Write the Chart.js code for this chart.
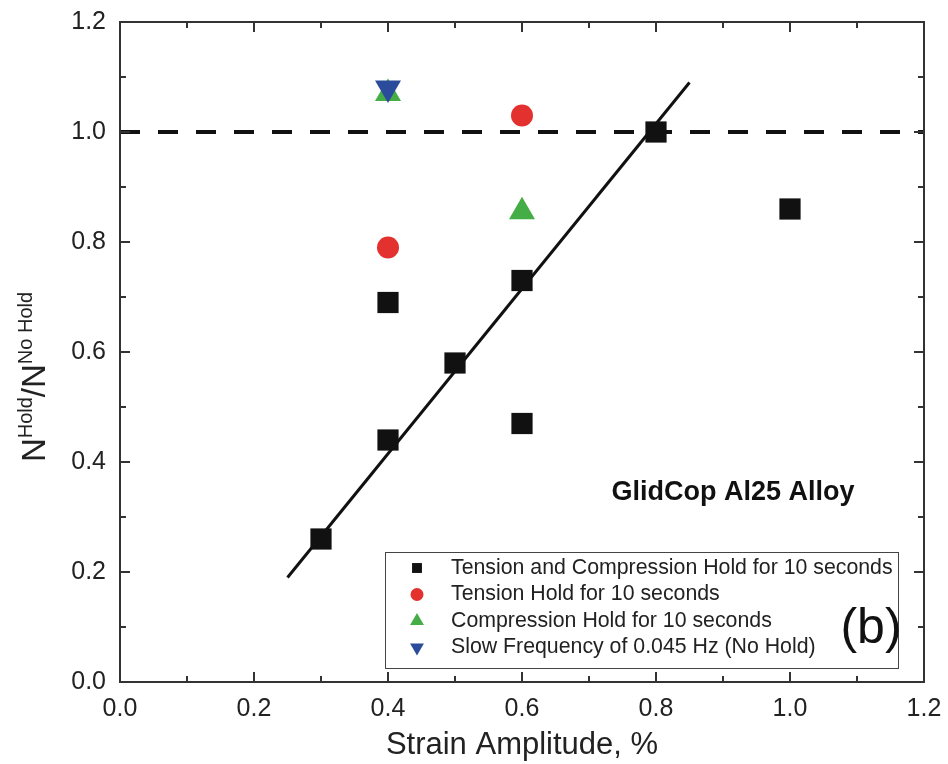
<!DOCTYPE html>
<html lang="en">
<head>
  <meta charset="UTF-8">
  <title>GlidCop Al25 hold time</title>
  <script src="https://cdn.jsdelivr.net/npm/chart.js"></script>
  <style>
    body {
      margin: 0;
      background: #ffffff;
    }
    #chart {
      display: block;
    }
  </style>
</head>
<body>
  <canvas id="chart" width="948" height="764"></canvas>

  <script>
    const FONT = 'Arial, "Liberation Sans", sans-serif';

    // Data
    const tcHoldX = [0.3, 0.4, 0.4, 0.5, 0.6, 0.6, 0.8, 1.0];
    const tcHoldY = [0.26, 0.44, 0.69, 0.58, 0.73, 0.47, 1.0, 0.86];
    const tHoldX = [0.4, 0.6];
    const tHoldY = [0.79, 1.03];
    const cHoldX = [0.4, 0.6];
    const cHoldY = [1.07, 0.855];
    const slowX = [0.4];
    const slowY = [1.08];
    const fitX = [0.25, 0.85];
    const fitY = [0.19, 1.09];
    const refX = [0, 1.2];
    const refY = [1, 1];

    const seriesLabels = [
      'Tension and Compression Hold for 10 seconds',
      'Tension Hold for 10 seconds',
      'Compression Hold for 10 seconds',
      'Slow Frequency of 0.045 Hz (No Hold)'
    ];
    const xTitle = 'Strain Amplitude, %';
    const noteText = 'GlidCop Al25 Alloy';
    const panelText = '(b)';

    const toPts = (xs, ys) => xs.map((x, i) => ({ x: x, y: ys[i] }));

    const RED = '#e3312f';
    const GREEN = '#45ad45';
    const BLUE = '#2b4c9b';

    // frame + inward ticks on all four sides
    const framePlugin = {
      id: 'frame',
      afterDatasetsDraw(chart) {
        const { ctx, chartArea: a, scales } = chart;
        ctx.save();
        ctx.strokeStyle = '#333';
        ctx.lineWidth = 2;
        ctx.strokeRect(a.left, a.top, a.right - a.left, a.bottom - a.top);
        for (let i = 0; i <= 12; i++) {
          const v = i / 10;
          const len = i % 2 === 0 ? 10 : 6;
          const px = scales.x.getPixelForValue(v);
          ctx.beginPath();
          ctx.moveTo(px, a.bottom); ctx.lineTo(px, a.bottom - len);
          ctx.moveTo(px, a.top); ctx.lineTo(px, a.top + len);
          const py = scales.y.getPixelForValue(v);
          ctx.moveTo(a.left, py); ctx.lineTo(a.left + len, py);
          ctx.moveTo(a.right, py); ctx.lineTo(a.right - len, py);
          ctx.stroke();
        }
        ctx.restore();
      }
    };

    // y title with superscripts, legend box, notes
    const extrasPlugin = {
      id: 'extras',
      afterDraw(chart) {
        const { ctx, chartArea: a } = chart;
        ctx.save();

        // y axis title
        const parts = [
          { t: 'N', s: 33, up: 0 },
          { t: 'Hold', s: 20, up: 13 },
          { t: '/N', s: 33, up: 0 },
          { t: 'No Hold', s: 20, up: 13 }
        ];
        let total = 0;
        parts.forEach(p => {
          ctx.font = p.s + 'px ' + FONT;
          p.w = ctx.measureText(p.t).width;
          total += p.w;
        });
        const cy = (a.top + a.bottom) / 2 + 25;
        ctx.translate(45, cy);
        ctx.rotate(-Math.PI / 2);
        ctx.fillStyle = '#222';
        ctx.textBaseline = 'alphabetic';
        ctx.textAlign = 'left';
        let x = -total / 2;
        parts.forEach(p => {
          ctx.font = p.s + 'px ' + FONT;
          ctx.fillText(p.t, x, -p.up);
          x += p.w;
        });
        ctx.setTransform(1, 0, 0, 1, 0, 0);

        // legend
        const lx = 385, ly = 552, lw = 513, lh = 116;
        ctx.fillStyle = '#fff';
        ctx.fillRect(lx, ly, lw, lh);
        ctx.strokeStyle = '#444';
        ctx.lineWidth = 1;
        ctx.strokeRect(lx + 0.5, ly + 0.5, lw, lh);
        const styles = [
          { c: '#111', p: 'rect', r: 7, rot: 0 },
          { c: RED, p: 'circle', r: 6.5, rot: 0 },
          { c: GREEN, p: 'triangle', r: 8, rot: 0 },
          { c: BLUE, p: 'triangle', r: 8, rot: 180 }
        ];
        ctx.font = '21.3px ' + FONT;
        ctx.textBaseline = 'middle';
        seriesLabels.forEach((lab, i) => {
          const yy = ly + 16 + i * 26.5;
          const st = styles[i];
          ctx.fillStyle = st.c;
          ctx.strokeStyle = st.c;
          Chart.helpers.drawPoint(ctx, { pointStyle: st.p, radius: st.r, rotation: st.rot, borderWidth: 0 }, 417, yy);
          ctx.fillStyle = '#222';
          ctx.fillText(lab, 451, yy);
        });

        // annotation texts
        ctx.fillStyle = '#111';
        ctx.textAlign = 'center';
        ctx.font = 'bold 27px ' + FONT;
        ctx.fillText(noteText, 733, 493);
        ctx.font = '50px ' + FONT;
        ctx.fillText(panelText, 871, 629);
        ctx.restore();
      }
    };

    new Chart(document.getElementById('chart').getContext('2d'), {
      type: 'scatter',
      data: {
        datasets: [
          {
            label: 'fit',
            type: 'line',
            data: toPts(fitX, fitY),
            borderColor: '#111',
            borderWidth: 3,
            pointRadius: 0,
            fill: false,
            order: 5
          },
          {
            label: 'ref',
            type: 'line',
            data: toPts(refX, refY),
            borderColor: '#111',
            borderWidth: 4,
            borderDash: [20, 18],
            pointRadius: 0,
            fill: false,
            order: 6
          },
          {
            label: seriesLabels[0],
            data: toPts(tcHoldX, tcHoldY),
            pointStyle: 'rect',
            pointRadius: 15,
            backgroundColor: '#111',
            borderWidth: 0,
            order: 4
          },
          {
            label: seriesLabels[1],
            data: toPts(tHoldX, tHoldY),
            pointStyle: 'circle',
            pointRadius: 11,
            backgroundColor: RED,
            borderWidth: 0,
            order: 3
          },
          {
            label: seriesLabels[2],
            data: toPts(cHoldX, cHoldY),
            pointStyle: 'triangle',
            pointRadius: 15,
            backgroundColor: GREEN,
            borderWidth: 0,
            order: 2
          },
          {
            label: seriesLabels[3],
            data: toPts(slowX, slowY),
            pointStyle: 'triangle',
            rotation: 180,
            pointRadius: 15,
            backgroundColor: BLUE,
            borderWidth: 0,
            order: 1
          }
        ]
      },
      options: {
        responsive: false,
        animation: false,
        layout: { padding: { top: 22, right: 24, left: 0, bottom: 0 } },
        plugins: {
          legend: { display: false },
          tooltip: { enabled: false }
        },
        scales: {
          x: {
            type: 'linear',
            min: 0,
            max: 1.2,
            afterFit: s => { s.height = 82; s.paddingLeft = 0; s.paddingRight = 0; },
            grid: { display: false, drawTicks: false },
            border: { display: false },
            ticks: {
              stepSize: 0.2,
              padding: 12,
              color: '#222',
              font: { size: 25, family: FONT },
              callback: v => v.toFixed(1)
            },
            title: {
              display: true,
              text: xTitle,
              color: '#222',
              font: { size: 31, family: FONT },
              padding: { top: 0, bottom: 0 }
            }
          },
          y: {
            min: 0,
            max: 1.2,
            afterFit: s => { s.width = 120; s.paddingTop = 0; s.paddingBottom = 0; },
            grid: { display: false, drawTicks: false },
            border: { display: false },
            ticks: {
              stepSize: 0.2,
              padding: 14,
              color: '#222',
              font: { size: 25, family: FONT },
              callback: v => v.toFixed(1)
            }
          }
        }
      },
      plugins: [framePlugin, extrasPlugin]
    });
  </script>
</body>
</html>
